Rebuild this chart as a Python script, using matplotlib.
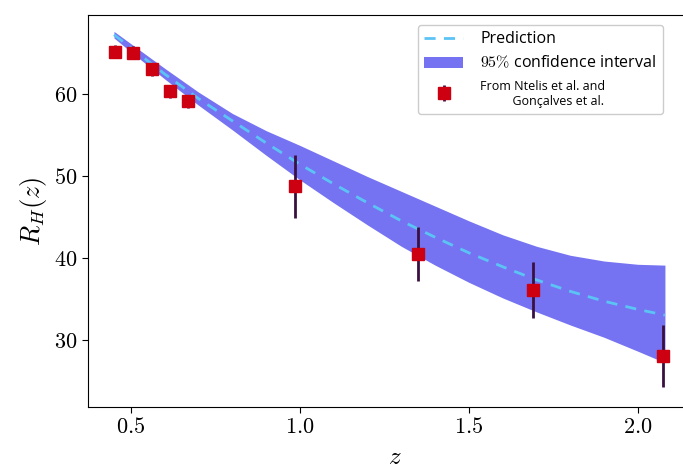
import matplotlib
matplotlib.use('Agg')
import matplotlib.pyplot as plt
from matplotlib.ticker import FuncFormatter

plt.rcParams['mathtext.fontset'] = 'cm'
plt.rcParams['font.family'] = ['Open Sans', 'DejaVu Sans']

# Prediccion y banda de confianza
z_pred = [0.45, 0.5, 0.6, 0.7, 0.8, 0.9, 1.0, 1.1, 1.2, 1.3, 1.4, 1.5,
          1.6, 1.7, 1.8, 1.9, 2.0, 2.08]
rh_pred = [67.2, 65.6, 62.4, 59.4, 56.7, 54.0, 51.4, 49.0, 46.7, 44.5, 42.5,
           40.6, 38.9, 37.3, 35.9, 34.7, 33.7, 33.0]
rh_low = [66.8, 65.1, 61.8, 58.6, 55.6, 52.5, 49.5, 46.7, 44.0, 41.4, 39.1,
          37.0, 35.1, 33.4, 31.8, 30.3, 28.6, 27.2]
rh_high = [67.6, 66.1, 63.1, 60.2, 57.6, 55.5, 53.7, 51.8, 49.9, 48.1, 46.3,
           44.5, 42.8, 41.4, 40.3, 39.6, 39.2, 39.1]

# Datos observados
z_obs = [0.453, 0.507, 0.563, 0.615, 0.670, 0.985, 1.350, 1.690, 2.075]
rh_obs = [65.1, 65.0, 63.0, 60.3, 59.1, 48.7, 40.5, 36.1, 28.0]
rh_err = [0.8, 0.8, 0.8, 0.8, 0.8, 3.8, 3.3, 3.4, 3.8]

fig = plt.figure(figsize=(6.83, 4.69), dpi=100)
ax = fig.add_axes([0.1288, 0.1322, 0.9, 0.8358])

ax.plot(z_pred, rh_pred, '--', color='#5cc4f5', lw=2, dashes=(4, 3),
        label='Prediction', zorder=3)
ax.fill_between(z_pred, rh_low, rh_high, color='#7573f2', lw=0,
                label=r'$95\%$ confidence interval', zorder=2)
ax.errorbar(z_obs, rh_obs, yerr=rh_err, fmt='s', color='#cc0010',
            ecolor='#3a1040', elinewidth=2, markersize=8, zorder=4,
            label='From Ntelis et al. and\n          Gonçalves et al.')

ax.set_xlim(0.373, 0.373 + 0.9 * 683 / 338)
ax.set_ylim(21.8, 69.6)
ax.set_xticks([0.5, 1.0, 1.5, 2.0])
ax.set_yticks([30, 40, 50, 60])
ax.xaxis.set_major_formatter(FuncFormatter(lambda v, p: f'${v:.1f}$'))
ax.yaxis.set_major_formatter(FuncFormatter(lambda v, p: f'${v:.0f}$'))
ax.tick_params(labelsize=16, length=4)
ax.set_xlabel('$z$', fontsize=18, labelpad=5)
ax.set_ylabel('$R_H(z)$', fontsize=19)

leg = ax.legend(loc='upper left', bbox_to_anchor=(418 / 683, 1 - 25 / 469),
                bbox_transform=fig.transFigure, borderaxespad=0,
                fontsize=11.5, handlelength=2.4, handletextpad=1.1,
                edgecolor='#cccccc', framealpha=1)
leg.get_texts()[2].set_fontsize(9)

fig.savefig('out.png', dpi=100)
